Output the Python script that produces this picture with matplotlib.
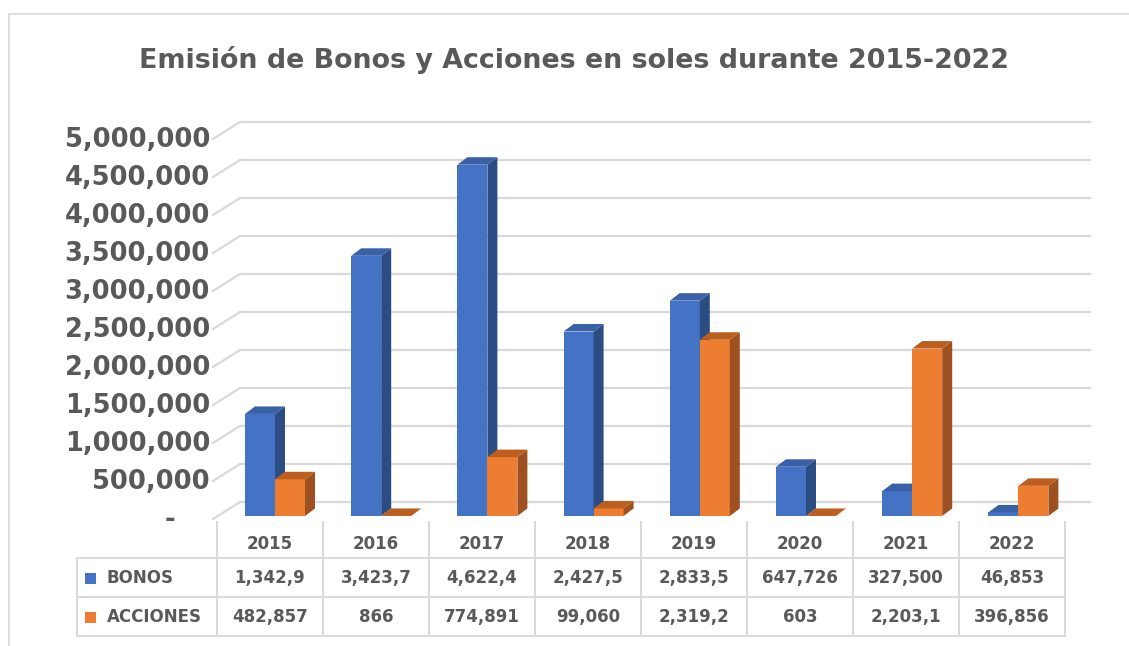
import numpy as np
import matplotlib.pyplot as plt
from matplotlib.patches import Polygon, Rectangle

# data (soles)
years = ['2015', '2016', '2017', '2018', '2019', '2020', '2021', '2022']
bonos = [1342900, 3423700, 4622400, 2427500, 2833500, 647726, 327500, 46853]
acciones = [482857, 866, 774891, 99060, 2319200, 603, 2203100, 396856]
series_names = ['BONOS', 'ACCIONES']
yticks = np.arange(0, 5000001, 500000)

W, H = 1129, 646
TXT = '#595959'
GRID = '#d9d9d9'
plt.rcParams['font.family'] = ['DejaVu Sans']

fig = plt.figure(figsize=(W / 100, H / 100), dpi=100)

PX_X = 106.2   # pixels per category
PX_Y = 76e-6   # pixels per sol


def dx(px):
    return px / PX_X


def dy(px):
    return px / PX_Y


# main axes = plane of the bar front faces
ax = fig.add_axes([221.9 / W, 130 / H, 8 * PX_X / W, 5.5e6 * PX_Y / H])
ax.set_xlim(-0.5, 7.5)
ax.set_ylim(0, 5.5e6)
ax.axis('off')
ax.set_zorder(2)

# back wall gridlines + left diagonal
xl = -0.5 + dx(218 - 221.9)
xr = -0.5 + dx(1068 - 221.9)
for v in yticks:
    ax.plot([xl + dx(-5), xl + dx(22)], [v + dy(-3), v + dy(14)],
            color=GRID, lw=1.6, clip_on=False, zorder=1)
    ax.plot([xl + dx(22), xr + dx(22)], [v + dy(14), v + dy(14)],
            color=GRID, lw=1.6, clip_on=False, zorder=1)
    lab = f"{v:,}" if v else '-'
    xt = xl + dx(-8) if v else xl + dx(-48)
    ax.text(xt, v + dy(-4), lab, ha='right' if v else 'center', va='center',
            fontsize=18.5, fontweight='bold', color=TXT)

# 3d-looking bars
bw = dx(30)
ddx, ddy = dx(10), dy(7.5)
styles = [('#4472C4', '#2C4C84', '#3A60A8'),
          ('#ED7D31', '#9E5020', '#BC5E1E')]


def bar3d(x0, h, cols, z):
    front, side, top = cols
    ax.add_patch(Rectangle((x0, 0), bw, h, facecolor=front, edgecolor='none',
                           zorder=z, clip_on=False))
    ax.add_patch(Polygon([(x0 + bw, 0), (x0 + bw + ddx, ddy), (x0 + bw + ddx, h + ddy),
                          (x0 + bw, h)], closed=True, facecolor=side,
                         edgecolor='none', zorder=z, clip_on=False))
    ax.add_patch(Polygon([(x0, h), (x0 + ddx, h + ddy), (x0 + bw + ddx, h + ddy),
                          (x0 + bw, h)], closed=True, facecolor=top,
                         edgecolor='none', zorder=z, clip_on=False))


z = 3
for i in range(len(years)):
    bar3d(i - bw, bonos[i], styles[0], z)
    bar3d(i, acciones[i], styles[1], z + 0.1)
    z += 0.2

# overlay in pixel coords: title, data table, chart border
ov = fig.add_axes([0, 0, 1, 1])
ov.set_xlim(0, W)
ov.set_ylim(H, 0)
ov.axis('off')
ov.set_zorder(1)

ov.plot([9, 9], [14, H], color=GRID, lw=1.2)
ov.plot([9, W], [14, 14], color=GRID, lw=1.2)

ov.text(574, 60, 'Emisión de Bonos y Acciones en soles durante 2015-2022',
        ha='center', va='center', fontsize=19.4, fontweight='bold', color=TXT)

col0, colw = 217, 106.0
rows_y = [558, 597, 636]
for k in range(len(years) + 1):
    ov.plot([col0 + k * colw] * 2, [522, 636], color=GRID, lw=1.4)
for yy in rows_y:
    ov.plot([77, col0 + len(years) * colw], [yy, yy], color=GRID, lw=1.4)
ov.plot([77, 77], [558, 636], color=GRID, lw=1.4)

for i, yr in enumerate(years):
    cx = col0 + colw * (i + 0.5)
    ov.text(cx, 544, yr, ha='center', va='center', fontsize=12,
            fontweight='bold', color=TXT)
    for r, vals in enumerate([bonos, acciones]):
        ov.text(cx, 578 + 39 * r, f"{vals[i]:,}"[:7], ha='center', va='center',
                fontsize=12, fontweight='bold', color=TXT)

for r, name in enumerate(series_names):
    yc = 578 + 39 * r
    ov.add_patch(Rectangle((85, yc - 5.5), 11, 11, facecolor=styles[r][0],
                           edgecolor='none'))
    ov.text(107, yc, name, ha='left', va='center', fontsize=12,
            fontweight='bold', color=TXT)

fig.savefig('out.png', dpi=100)
